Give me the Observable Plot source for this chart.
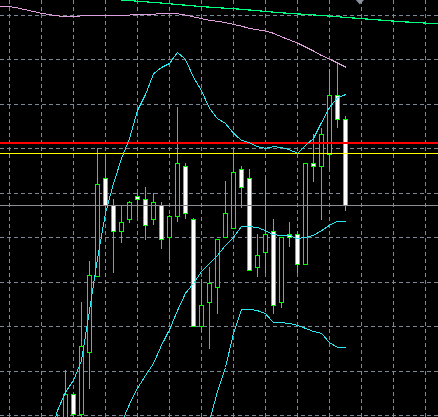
<!DOCTYPE html>
<html>
<head>
<meta charset="utf-8">
<script src="https://cdn.jsdelivr.net/npm/d3@7"></script>
<script src="https://cdn.jsdelivr.net/npm/@observablehq/plot@0.6"></script>
<style>
  html, body { margin: 0; padding: 0; background: #000; }
  #chart { width: 438px; height: 417px; overflow: hidden; }
</style>
</head>
<body>
<div id="chart"></div>
<script>
// ---- Candles (bar index starts at firstBar) ----
const firstBar = 6;
const openP  = [1198.9, 1197.8, 1204.7, 1200.2, 1214.1, 1231.1, 1253.3, 1247.2, 1241.2, 1243.9, 1249.1, 1248.5, 1244.0, 1247.2, 1240.0, 1244.7, 1256.0, 1244.0, 1220.0, 1225.4, 1228.7, 1240.0, 1242.0, 1255.3, 1253.3, 1233.2, 1236.6, 1241.3, 1225.4, 1240.7, 1240.7, 1233.9, 1256.6, 1256.0, 1258.7, 1271.9, 1266.5];
const highP  = [1200.2, 1210.1, 1204.7, 1225.4, 1234.7, 1260.0, 1258.3, 1248.5, 1247.2, 1248.2, 1249.9, 1251.2, 1249.9, 1247.9, 1245.0, 1269.2, 1256.7, 1244.3, 1230.5, 1233.4, 1239.4, 1252.6, 1259.8, 1256.0, 1255.3, 1240.7, 1253.3, 1244.0, 1240.0, 1243.4, 1241.3, 1256.6, 1263.2, 1264.5, 1277.9, 1279.4, 1267.2];
const lowP   = [1196.6, 1197.1, 1199.4, 1199.6, 1205.9, 1231.0, 1246.1, 1231.9, 1238.6, 1243.3, 1244.5, 1239.4, 1242.8, 1237.3, 1235.0, 1243.4, 1244.0, 1219.8, 1218.6, 1214.8, 1222.7, 1240.0, 1242.0, 1246.6, 1232.6, 1231.1, 1231.9, 1222.7, 1224.0, 1237.9, 1231.9, 1233.9, 1252.5, 1243.9, 1255.3, 1264.5, 1246.0];
const closeP = [1197.5, 1204.7, 1200.2, 1215.5, 1231.3, 1251.9, 1247.2, 1241.3, 1243.4, 1247.9, 1248.5, 1242.7, 1247.9, 1239.4, 1244.7, 1256.6, 1245.4, 1220.0, 1224.7, 1229.5, 1239.4, 1245.4, 1254.6, 1251.2, 1232.6, 1235.9, 1240.7, 1224.7, 1240.0, 1240.0, 1233.9, 1256.6, 1256.0, 1263.2, 1271.9, 1266.5, 1247.2];

// ---- Bollinger bands ----
const upperStart = 5;
const upperBand = [1194.4, 1201.1, 1205.2, 1207.9, 1212.4, 1223.6, 1235.3, 1245.5, 1252.2, 1257.8, 1262.3, 1268.6, 1272.2, 1276.9, 1278.3, 1279.2, 1281.7, 1280.1, 1276.1, 1273.1, 1269.1, 1266.8, 1265.7, 1263.5, 1261.9, 1261.4, 1260.5, 1260.1, 1260.5, 1260.3, 1259.8, 1259.0, 1260.8, 1262.3, 1265.9, 1269.3, 1271.5, 1272.2];
const middleStart = 14;
const middleBand = [1198.4, 1202.5, 1206.1, 1209.0, 1211.7, 1215.8, 1219.3, 1223.6, 1227.5, 1229.7, 1232.4, 1234.2, 1236.0, 1238.3, 1240.1, 1242.5, 1242.5, 1242.3, 1241.6, 1240.7, 1240.5, 1240.5, 1239.8, 1240.1, 1240.5, 1241.6, 1242.8, 1243.7, 1243.7];
const lowerStart = 24;
const lowerBand = [1191.7, 1198.7, 1205.4, 1210.8, 1218.5, 1223.9, 1223.9, 1223.6, 1222.9, 1220.9, 1220.9, 1220.7, 1220.3, 1219.6, 1218.9, 1218.5, 1216.4, 1215.3, 1215.3];

// ---- Slow moving average ----
const maStart = -2;
const slowMA = [1292.3, 1292.1, 1292.0, 1291.7, 1291.3, 1290.9, 1290.5, 1290.2, 1289.9, 1289.8, 1289.8, 1289.9, 1289.9, 1289.9, 1289.9, 1290.0, 1290.0, 1290.1, 1290.2, 1290.2, 1290.3, 1290.4, 1290.4, 1290.4, 1290.1, 1289.7, 1289.3, 1288.9, 1288.7, 1288.4, 1288.0, 1287.6, 1287.1, 1286.8, 1286.5, 1286.0, 1285.2, 1284.5, 1283.8, 1282.9, 1282.0, 1281.0, 1280.2, 1279.3, 1278.4];

// ---- Trend line (bar index, price) ----
const trendBars   = [14, 19, 24, 29, 34, 39, 44, 49, 54];
const trendPrices = [1293.5, 1292.8, 1292.0, 1291.4, 1290.6, 1290.0, 1289.3, 1288.6, 1288.1];

// ---- Horizontal levels ----
const resistanceLevel = 1261.4;
const upperLevel = 1258.9;
const pivotLevel = 1247.2;

// ---- Grid ----
const gridPrices = [1200, 1210, 1220, 1230, 1240, 1250, 1260, 1270, 1280, 1290];
const gridBars = [0, 4, 8, 12, 16, 20, 24, 28, 32, 36, 40, 44, 48, 52];

// chart-shift marker position (bar index)
const shiftMarker = 43.8;

// ---- Build tables for the marks ----
const candles = openP.map((o, k) => ({
  i: firstBar + k, open: o, high: highP[k], low: lowP[k], close: closeP[k]
}));
const series = (start, values) => values.map((v, k) => ({i: start + k, v}));
const upper = series(upperStart, upperBand);
const middle = series(middleStart, middleBand);
const lower = series(lowerStart, lowerBand);
const ma = series(maStart, slowMA);
const trend = trendBars.map((b, k) => ({i: b, v: trendPrices[k]}));

const LIME = "#00ff00";
const BAND = "#2de6f0";
const GRID = "#7a8896";

// flat down-pointing marker
const downWedge = {
  draw(ctx) {
    ctx.moveTo(-4.5, -1);
    ctx.lineTo(4.5, -1);
    ctx.lineTo(0, 4);
    ctx.closePath();
  }
};

const chart = Plot.plot({
  width: 438,
  height: 417,
  margin: 0,
  style: {background: "#000", display: "block"},
  x: {type: "linear", domain: [-1.125, 53.625], axis: null},
  y: {type: "linear", domain: [1199.55, 1293.375], axis: null},
  color: {type: "identity"},
  marks: [
    Plot.ruleY(gridPrices, {y: d => d, stroke: GRID, strokeDasharray: "4,3", shapeRendering: "crispEdges"}),
    Plot.ruleX(gridBars, {x: d => d, stroke: GRID, strokeDasharray: "4,3", shapeRendering: "crispEdges"}),
    // candle wicks and bodies
    Plot.ruleX(candles, {x: "i", y1: "low", y2: "high", stroke: LIME, shapeRendering: "crispEdges", clip: true}),
    Plot.rect(candles, {
      x1: d => d.i - 0.25, x2: d => d.i + 0.25,
      y1: "open", y2: "close",
      fill: d => d.close < d.open ? "#ffffff" : "#000000",
      stroke: LIME, shapeRendering: "crispEdges", clip: true
    }),
    // horizontal levels
    Plot.ruleY([resistanceLevel], {y: d => d, stroke: "#ff0000", strokeWidth: 2, shapeRendering: "crispEdges"}),
    Plot.ruleY([upperLevel], {y: d => d, stroke: "#ffff00", strokeWidth: 1, shapeRendering: "crispEdges"}),
    Plot.ruleY([pivotLevel], {y: d => d, stroke: "#8c8c94", strokeWidth: 1, shapeRendering: "crispEdges"}),
    // indicators
    Plot.line(ma, {x: "i", y: "v", stroke: "#dda0dd", strokeWidth: 1, shapeRendering: "crispEdges", clip: true}),
    Plot.line(trend, {x: "i", y: "v", stroke: "#00ff7f", strokeWidth: 1.2, shapeRendering: "crispEdges", clip: true}),
    Plot.line(upper, {x: "i", y: "v", stroke: BAND, strokeWidth: 1, shapeRendering: "crispEdges", clip: true}),
    Plot.line(middle, {x: "i", y: "v", stroke: BAND, strokeWidth: 1, shapeRendering: "crispEdges", clip: true}),
    Plot.line(lower, {x: "i", y: "v", stroke: BAND, strokeWidth: 1, shapeRendering: "crispEdges", clip: true}),
    Plot.dot([shiftMarker], {x: d => d, frameAnchor: "top", symbol: downWedge, fill: "#8a949e", stroke: "none"})
  ]
});

document.getElementById("chart").appendChild(chart);
</script>
</body>
</html>
